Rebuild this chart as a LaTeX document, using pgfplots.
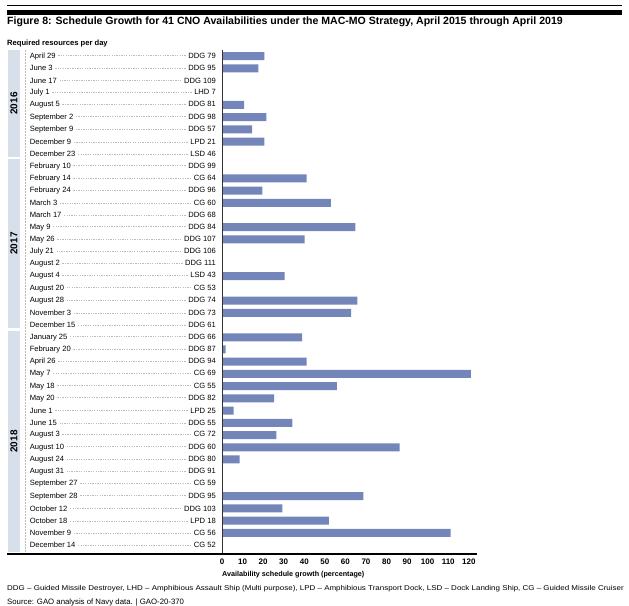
\documentclass[border=0pt]{standalone}
\usepackage{fontspec}
\setmainfont{Liberation Sans}
\usepackage{pgfplots}
\pgfplotsset{compat=1.18}

\definecolor{barblue}{HTML}{7385B9}
\definecolor{band}{HTML}{D7DFEB}
\definecolor{leader}{HTML}{BBBBBB}

% date on the left, ship on the right, dashed leader between
\newcommand\row[2]{\hbox to 186bp{#1\ {\color{leader}\xleaders\hbox to 2.4bp{\hss\rule[0.6ex]{1.3bp}{0.35bp}\hss}\hfill}\ #2}}
\newcommand\fs[1]{\fontsize{#1bp}{#1bp}\selectfont}

\begin{document}
\begin{tikzpicture}[x=1bp,y=1bp]
\path[use as bounding box] (0,0) rectangle (629,606);

% header rules and title
\draw[line width=0.6bp] (7,601) -- (622,601);
\fill[black] (7,591) rectangle (622,596);
\node[anchor=west, inner sep=0pt, font=\fs{10.55}\bfseries] at (7,584) {Figure 8: Schedule Growth for 41 CNO Availabilities under the MAC-MO Strategy, April 2015 through April 2019};
\node[anchor=west, inner sep=0pt, font=\fs{7.6}\bfseries] at (7,562.5) {Required resources per day};

% year bands
\fill[band] (8,556) rectangle (20,449);
\fill[band] (8,447) rectangle (20,278);
\fill[band] (8,275) rectangle (20,54);
\node[rotate=90, font=\fs{10}\bfseries] at (14,502.5) {2016};
\node[rotate=90, font=\fs{10}\bfseries] at (14,362.5) {2017};
\node[rotate=90, font=\fs{10}\bfseries] at (14,164.5) {2018};
\draw[leader, densely dotted, line width=0.5bp] (25,556) -- (25,54);

\begin{axis}[
  at={(222bp,53bp)}, anchor=south west,
  scale only axis,
  width=255bp, height=503bp,
  xbar, bar width=8bp,
  xmin=0, xmax=124,
  ymin=-0.5, ymax=40.65,
  y dir=reverse,
  axis line style={draw=none},
  tick style={draw=none},
  major tick length=0pt,
  xtick={0,10,...,120},
  ytick={0,...,40},
  /pgf/number format/assume math mode=true,
  xticklabel style={font=\fs{8}\bfseries, inner sep=0pt, yshift=-6bp},
  yticklabel style={font=\fs{7.6}, anchor=east, inner sep=0pt, xshift=-6bp},
  yticklabels={
    \row{April 29}{DDG 79}, \row{June 3}{DDG 95}, \row{June 17}{DDG 109},
    \row{July 1}{LHD 7}, \row{August 5}{DDG 81}, \row{September 2}{DDG 98},
    \row{September 9}{DDG 57}, \row{December 9}{LPD 21}, \row{December 23}{LSD 46},
    \row{February 10}{DDG 99}, \row{February 14}{CG 64}, \row{February 24}{DDG 96},
    \row{March 3}{CG 60}, \row{March 17}{DDG 68}, \row{May 9}{DDG 84},
    \row{May 26}{DDG 107}, \row{July 21}{DDG 106}, \row{August 2}{DDG 111},
    \row{August 4}{LSD 43}, \row{August 20}{CG 53}, \row{August 28}{DDG 74},
    \row{November 3}{DDG 73}, \row{December 15}{DDG 61}, \row{January 25}{DDG 66},
    \row{February 20}{DDG 87}, \row{April 26}{DDG 94}, \row{May 7}{CG 69},
    \row{May 18}{CG 55}, \row{May 20}{DDG 82}, \row{June 1}{LPD 25},
    \row{June 15}{DDG 55}, \row{August 3}{CG 72}, \row{August 10}{DDG 60},
    \row{August 24}{DDG 80}, \row{August 31}{DDG 91}, \row{September 27}{CG 59},
    \row{September 28}{DDG 95}, \row{October 12}{DDG 103}, \row{October 18}{LPD 18},
    \row{November 9}{CG 56}, \row{December 14}{CG 52}
  },
]
\addplot[fill=barblue, draw=none] coordinates {
  (20.6,0) (17.7,1) (0,2) (0,3) (10.7,4) (21.6,5) (14.6,6) (20.6,7) (0,8)
  (0,9) (41.2,10) (19.6,11) (53,12) (0,13) (64.9,14) (40.2,15) (0,16)
  (0,17) (30.5,18) (0,19) (65.8,20) (62.8,21) (0,22)
  (39,23) (1.8,24) (41.2,25) (121,26) (55.9,27) (25.4,28) (5.6,29)
  (34.2,30) (26.4,31) (86.4,32) (8.6,33) (0,34) (0,35) (68.7,36)
  (29.4,37) (52,38) (111.2,39) (0,40)
};
\end{axis}

% axis lines
\draw[black!80, line width=0.9bp] (222,556) -- (222,52);
\draw[black, line width=2.2bp] (7,52) -- (477,52);

% footer
\node[anchor=west, inner sep=0pt, font=\fs{7.2}\bfseries] at (222,31.5) {Availability schedule growth (percentage)};
\node[anchor=west, inner sep=0pt, font=\fs{7}] at (7,17) {\scalebox{1.14}[1]{DDG -- Guided Missile Destroyer, LHD -- Amphibious Assault Ship (Multi purpose), LPD -- Amphibious Transport Dock, LSD -- Dock Landing Ship, CG -- Guided Missile Cruiser}};
\node[anchor=west, inner sep=0pt, font=\fs{7.8}] at (7,3.5) {Source: GAO analysis of Navy data. \textbar\ GAO-20-370};
\end{tikzpicture}
\end{document}
